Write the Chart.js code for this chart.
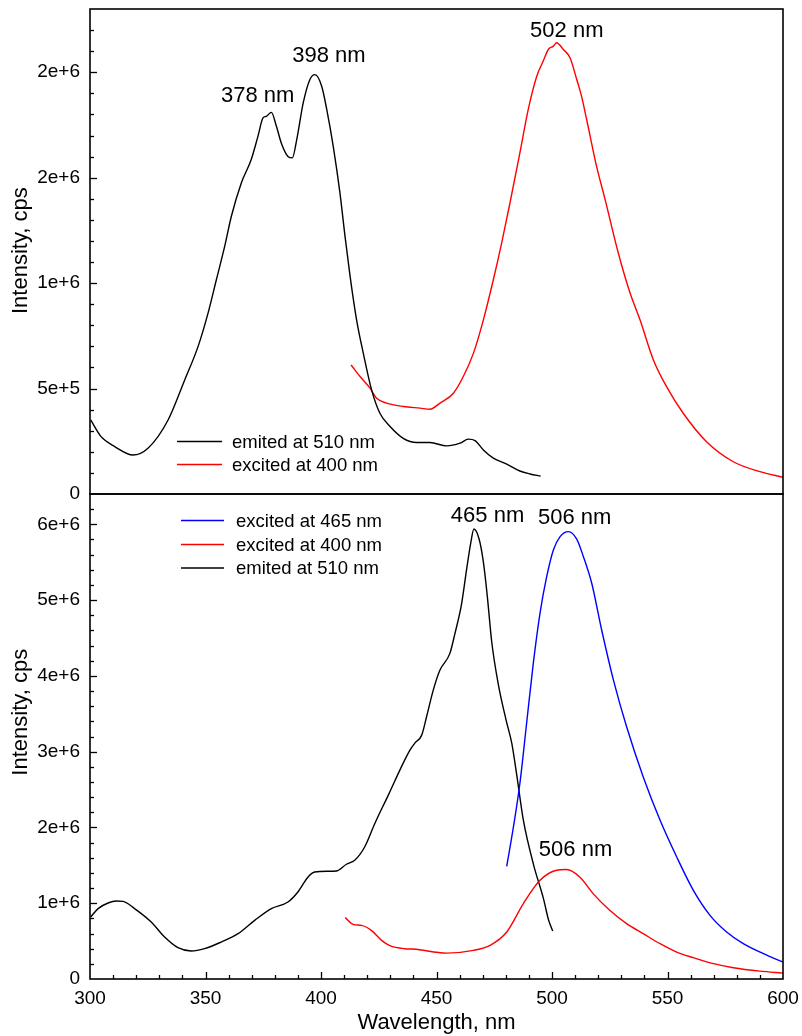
<!DOCTYPE html>
<html><head><meta charset="utf-8">
<script src="https://cdn.jsdelivr.net/npm/chart.js@4.4.1/dist/chart.umd.min.js"></script>
<style>
html,body{margin:0;padding:0;background:#fff;width:802px;height:1036px;overflow:hidden}
#w1{position:absolute;left:0;top:0;width:802px;height:500px}
#w2{position:absolute;left:0;top:480px;width:802px;height:556px}
</style></head><body>
<div id="w1"><canvas id="c1"></canvas></div>
<div id="w2"><canvas id="c2"></canvas></div>
<script>
// ---------- Top panel data ----------
const topEmWl = [300.3,304.8,310.7,318.6,325.1,333.8,341.0,346.8,351.1,354.7,358.3,361.2,365.5,369.8,372.7,374.9,376.3,378.5,380.7,382.8,385.7,387.6,389.5,392.3,395.2,397.4,400.3,402.5,405.3,408.2,410.4,412.6,415.4,418.3,421.9,425.5,429.9,435.6,441.4,447.2,454.4,460.2,463.8,466.7,470.3,474.6,480.4,486.1,490.5,495.1];
const topEmI  = [351e3,272e3,225e3,185e3,217e3,351e3,541e3,700e3,858e3,1016e3,1174e3,1317e3,1475e3,1586e3,1696e3,1784e3,1791e3,1810e3,1744e3,1665e3,1601e3,1594e3,1681e3,1855e3,1966e3,1989e3,1934e3,1823e3,1649e3,1428e3,1222e3,1032e3,826e3,668e3,494e3,383e3,320e3,264e3,244e3,244e3,228e3,241e3,260e3,253e3,209e3,170e3,142e3,109e3,95e3,85e3];
const topExWl = [413.0,416.9,421.2,424.1,428.4,435.6,442.9,447.2,451.5,457.3,461.6,466.0,470.3,474.6,478.2,481.8,486.1,489.7,493.4,496.2,498.4,500.6,502.0,504.9,507.8,510.7,512.8,515.0,519.3,523.0,528.7,533.8,538.1,543.9,549.6,556.8,566.9,578.5,590.0,600.0];
const topExI  = [612e3,557e3,502e3,454e3,431e3,415e3,407e3,402e3,431e3,478e3,557e3,668e3,826e3,1016e3,1190e3,1380e3,1618e3,1823e3,1981e3,2053e3,2108e3,2124e3,2140e3,2108e3,2069e3,1966e3,1886e3,1776e3,1554e3,1396e3,1143e3,953e3,826e3,636e3,509e3,383e3,248e3,153e3,106e3,79e3];

// ---------- Bottom panel data ----------
const botEmWl = [300.3,303.5,307.8,311.4,314.3,319.3,326.5,332.3,338.1,343.8,349.6,356.8,364.1,371.3,378.5,385.7,390.0,394.4,397.3,403.0,406.6,411.0,414.6,418.9,423.3,429.5,434.5,438.5,440.7,443.6,445.7,448.6,451.5,455.8,458.0,460.9,463.0,464.8,466.2,468.5,470.3,472.0,473.9,476.8,480.1,482.6,484.7,487.6,492.0,496.3,498.5,500.3];
const botEmI  = [818e3,929e3,1003e3,1029e3,1025e3,929e3,752e3,554e3,413e3,369e3,400e3,488e3,598e3,774e3,929e3,1016e3,1148e3,1346e3,1412e3,1421e3,1425e3,1514e3,1567e3,1742e3,2052e3,2450e3,2780e3,3020e3,3116e3,3218e3,3460e3,3812e3,4077e3,4297e3,4561e3,4958e3,5398e3,5750e3,5939e3,5800e3,5500e3,5050e3,4450e3,3880e3,3420e3,3108e3,2700e3,2095e3,1510e3,1060e3,780e3,633e3];
const botEx465Wl = [480.4,483.3,486.1,489.0,491.9,494.8,497.7,500.6,503.5,507.1,510.7,513.6,517.2,521.5,526.6,532.3,539.5,546.8,554.0,561.2,568.4,575.6,582.8,591.5,600.0];
const botEx465I  = [1487e3,2007e3,2580e3,3372e3,4165e3,4826e3,5309e3,5662e3,5838e3,5904e3,5805e3,5573e3,5222e3,4605e3,3944e3,3328e3,2667e3,2095e3,1610e3,1170e3,840e3,620e3,466e3,334e3,223e3];
const botEx400Wl = [410.5,413.9,417.5,421.8,426.2,429.8,436.2,440.0,454.4,466.0,473.2,480.4,487.6,494.8,502.0,506.3,512.0,517.8,525.0,532.3,539.5,546.8,554.0,561.2,569.9,578.5,590.0,600.0];
const botEx400I  = [810e3,721e3,708e3,642e3,510e3,440e3,400e3,395e3,342e3,378e3,444e3,620e3,995e3,1302e3,1435e3,1444e3,1346e3,1127e3,906e3,730e3,598e3,466e3,355e3,281e3,202e3,149e3,104e3,78e3];

// ---------- Axis ticks ----------
const xTicks = [300,350,400,450,500,550,600];
const topYTicks = [0,5e5,1e6,1.5e6,2e6];
const botYTicks = [0,1e6,2e6,3e6,4e6,5e6,6e6];

// ---------- Peak labels ----------
const topNotes = [["378 nm",372.6,1.89e6],["398 nm",403.4,2.076e6],["502 nm",506.4,2.198e6]];
const botNotes = [["465 nm",472.1,6.11e6],["506 nm",509.8,6.087e6],["506 nm",510.2,1.707e6]];

const FONT = "'Liberation Sans', Arial, Helvetica, sans-serif";
const pts = (xs, ys) => xs.map((x, i) => ({x, y: ys[i]}));
const fmt = v => v === 0 ? '0' : Number(v).toExponential(0);
const noPad = s => { s.paddingTop = 0; s.paddingBottom = 0; s.paddingLeft = 0; s.paddingRight = 0; };

const decor = {
  id: 'decor',
  afterDatasetsDraw(chart, args, o) {
    const {ctx, chartArea: a, scales} = chart;
    const xs = scales.x, ys = scales.y;
    ctx.save();
    ctx.strokeStyle = '#000';
    ctx.lineWidth = 1.3;
    const nY = Math.round((ys.max - ys.min) / o.yMinor);
    for (let i = 0; i <= nY; i++) {
      const v = ys.min + i * o.yMinor;
      const isMaj = Math.abs(v / o.yMajor - Math.round(v / o.yMajor)) < 1e-6;
      const p = Math.round(ys.getPixelForValue(v)) + 0.5;
      if (p <= a.top + 1 || p >= a.bottom - 1) continue;
      ctx.beginPath(); ctx.moveTo(a.left, p); ctx.lineTo(a.left + (isMaj ? 7 : 4), p); ctx.stroke();
    }
    if (o.xTicks) {
      const nX = Math.round((xs.max - xs.min) / 10);
      for (let i = 0; i <= nX; i++) {
        const v = xs.min + i * 10;
        const isMaj = v % 50 === 0;
        const p = Math.round(xs.getPixelForValue(v)) + 0.5;
        if (p <= a.left + 1 || p >= a.right - 1) continue;
        ctx.beginPath(); ctx.moveTo(p, a.bottom); ctx.lineTo(p, a.bottom - (isMaj ? 7 : 4)); ctx.stroke();
      }
    }
    ctx.lineWidth = 1.6;
    ctx.strokeRect(a.left, a.top, a.right - a.left, a.bottom - a.top);
    const L = o.legend;
    ctx.font = '18.5px ' + FONT;
    ctx.textBaseline = 'middle'; ctx.textAlign = 'left';
    L.rows.forEach(r => {
      const ds = chart.data.datasets[r.i];
      ctx.strokeStyle = ds.borderColor; ctx.lineWidth = 1.5;
      ctx.beginPath(); ctx.moveTo(L.x1, r.y); ctx.lineTo(L.x2, r.y); ctx.stroke();
      ctx.fillStyle = '#000'; ctx.fillText(ds.label, L.tx, r.y + 1);
    });
    ctx.font = '22px ' + FONT; ctx.textAlign = 'center'; ctx.fillStyle = '#000';
    o.notes.forEach(n => ctx.fillText(n[0], xs.getPixelForValue(n[1]), ys.getPixelForValue(n[2])));
    ctx.save();
    ctx.translate(20.5, ys.getPixelForValue(o.titleAt));
    ctx.rotate(-Math.PI / 2);
    ctx.font = '22px ' + FONT; ctx.textAlign = 'center'; ctx.textBaseline = 'middle';
    ctx.fillText('Intensity, cps', 0, 0);
    ctx.restore();
    ctx.restore();
  }
};

const lineDs = (label, color, data) => ({label, data, borderColor: color, borderWidth: 1.4, pointRadius: 0, cubicInterpolationMode: 'monotone', fill: false});

function yScale(max, step, ticks) {
  return {
    type: 'linear', min: 0, max,
    afterFit: s => { s.width = 90; noPad(s); },
    afterBuildTicks: s => { s.ticks = ticks.map(v => ({value: v})); },
    grid: {display: false, drawTicks: false, tickLength: 0},
    border: {display: false},
    ticks: {stepSize: step, includeBounds: false, padding: 10, color: '#000', font: {family: FONT, size: 19}, callback: fmt}
  };
}

new Chart(document.getElementById('c1'), {
  type: 'line',
  data: {datasets: [
    lineDs('emited at 510 nm', '#000000', pts(topEmWl, topEmI)),
    lineDs('excited at 400 nm', '#ff0000', pts(topExWl, topExI))
  ]},
  options: {
    responsive: true, maintainAspectRatio: false, animation: false, devicePixelRatio: 1,
    layout: {padding: {left: 0, right: 19, top: 9, bottom: 6}},
    plugins: {legend: {display: false}, tooltip: {enabled: false},
      decor: {yMinor: 1e5, yMajor: 5e5, xTicks: false, titleAt: 1.154e6, notes: topNotes,
        legend: {x1: 177, x2: 222, tx: 232, rows: [{i: 0, y: 441.5}, {i: 1, y: 464.5}]}}},
    scales: {
      x: {type: 'linear', min: 300, max: 600, display: false},
      y: yScale(2.3e6, 5e5, topYTicks)
    }
  },
  plugins: [decor]
});

new Chart(document.getElementById('c2'), {
  type: 'line',
  data: {datasets: [
    lineDs('excited at 465 nm', '#0000ff', pts(botEx465Wl, botEx465I)),
    lineDs('excited at 400 nm', '#ff0000', pts(botEx400Wl, botEx400I)),
    lineDs('emited at 510 nm', '#000000', pts(botEmWl, botEmI))
  ]},
  options: {
    responsive: true, maintainAspectRatio: false, animation: false, devicePixelRatio: 1,
    layout: {padding: {left: 0, right: 19, top: 14, bottom: 0}},
    plugins: {legend: {display: false}, tooltip: {enabled: false},
      decor: {yMinor: 2e5, yMajor: 1e6, xTicks: true, titleAt: 3.52e6, notes: botNotes,
        legend: {x1: 181, x2: 224, tx: 236, rows: [{i: 0, y: 40.5}, {i: 1, y: 64.5}, {i: 2, y: 88}]}}},
    scales: {
      x: {type: 'linear', min: 300, max: 600,
        afterFit: s => { s.height = 57; noPad(s); },
        afterBuildTicks: s => { s.ticks = xTicks.map(v => ({value: v})); },
        grid: {display: false, drawTicks: false, tickLength: 0},
        border: {display: false},
        ticks: {stepSize: 50, padding: 8, maxRotation: 0, color: '#000', font: {family: FONT, size: 19}},
        title: {display: true, text: 'Wavelength, nm', color: '#000', font: {family: FONT, size: 22}, padding: {top: 0, bottom: 0}}
      },
      y: yScale(6.4e6, 1e6, botYTicks)
    }
  },
  plugins: [decor]
});
</script>
</body></html>
